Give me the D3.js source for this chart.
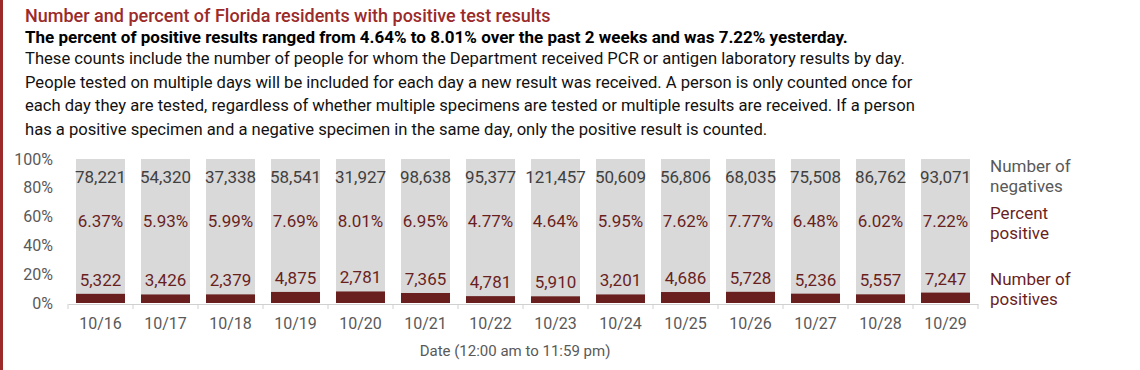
<!DOCTYPE html>
<html>
<head>
<meta charset="utf-8">
<script src="https://cdn.jsdelivr.net/npm/d3@7"></script>
<style>
  body { margin: 0; background: #fff; }
  #here { width: 1140px; height: 370px; }
  text { font-family: "Roboto", "Liberation Sans", sans-serif; }
</style>
</head>
<body>
<div id="here"></div>
<script>
// Florida positives / negatives by day

const dates = ["10/16", "10/17", "10/18", "10/19", "10/20", "10/21", "10/22",
    "10/23", "10/24", "10/25", "10/26", "10/27", "10/28", "10/29"];
const negatives = [78221, 54320, 37338, 58541, 31927, 98638, 95377,
    121457, 50609, 56806, 68035, 75508, 86762, 93071];
const positives = [5322, 3426, 2379, 4875, 2781, 7365, 4781,
    5910, 3201, 4686, 5728, 5236, 5557, 7247];
const pctPositive = [6.37, 5.93, 5.99, 7.69, 8.01, 6.95, 4.77,
    4.64, 5.95, 7.62, 7.77, 6.48, 6.02, 7.22];
const yTicks = [0, 20, 40, 60, 80, 100];

const bodyLines = [
    "These counts include the number of people for whom the Department received PCR or antigen laboratory results by day.",
    "People tested on multiple days will be included for each day a new result was received. A person is only counted once for",
    "each day they are tested, regardless of whether multiple specimens are tested or multiple results are received. If a person",
    "has a positive specimen and a negative specimen in the same day, only the positive result is counted."
];

const data = dates.map(function(d, i){
    return { date: d, neg: negatives[i], pos: positives[i], pct: pctPositive[i] };
});

const width = 1140;
const height = 370;

const svg = d3
    .select("#here")
    .append("svg")
    .attr("width", width)
    .attr("height", height);

// left border
svg.append("rect")
    .attr("x", 0).attr("y", 0)
    .attr("width", 3).attr("height", height)
    .attr("fill", "#9b2a2a");

// headings
svg.append("text")
    .attr("x", 25).attr("y", 22)
    .attr("fill", "#9b2a2a")
    .attr("font-size", 18)
    .attr("font-weight", 500)
    .text("Number and percent of Florida residents with positive test results");

svg.append("text")
    .attr("x", 25).attr("y", 43)
    .attr("fill", "#000")
    .attr("font-size", 17)
    .attr("font-weight", "bold")
    .text("The percent of positive results ranged from 4.64% to 8.01% over the past 2 weeks and was 7.22% yesterday.");

svg.selectAll(".body")
    .data(bodyLines)
    .enter()
    .append("text")
    .attr("class", "body")
    .attr("x", 25)
    .attr("y", function(d, i){ return 64 + i * 23.7; })
    .attr("fill", "#111")
    .attr("font-size", 16.6)
    .text(function(d){ return d; });

// scales
const xScale = d3
    .scaleBand()
    .domain(dates)
    .range([68, 978])
    .paddingInner(0.246)
    .paddingOuter(0.123);

const yScale = d3
    .scaleLinear()
    .domain([0, 100])
    .range([303, 159]);

// y labels (no axis line)
svg.selectAll(".ylab")
    .data(yTicks)
    .enter()
    .append("text")
    .attr("class", "ylab")
    .attr("x", 53)
    .attr("y", function(d){ return yScale(d); })
    .attr("dy", "0.35em")
    .attr("text-anchor", "end")
    .attr("fill", "#595959")
    .attr("font-size", 16)
    .text(function(d){ return d + "%"; });

// full grey bars (negatives + positives = 100%)
svg.selectAll(".negbar")
    .data(data)
    .enter()
    .append("rect")
    .attr("class", "negbar")
    .attr("x", function(d){ return xScale(d.date); })
    .attr("y", yScale(100))
    .attr("width", xScale.bandwidth())
    .attr("height", yScale(0) - yScale(100))
    .attr("fill", "#d9d9d9");

svg.selectAll(".posbar")
    .data(data)
    .enter()
    .append("rect")
    .attr("class", "posbar")
    .attr("x", function(d){ return xScale(d.date); })
    .attr("y", function(d){ return yScale(d.pct); })
    .attr("width", xScale.bandwidth())
    .attr("height", function(d){ return yScale(0) - yScale(d.pct); })
    .attr("fill", "#6a1f1f");

// x axis
const xAxis = svg
    .append("g")
    .attr("transform", "translate(0, 304)")
    .call(d3.axisBottom(xScale).tickSize(0).tickPadding(14));

xAxis.select(".domain").attr("stroke", "#d0d0d0");
xAxis.selectAll("text")
    .attr("fill", "#595959")
    .attr("font-size", 16)
    .attr("font-family", "Roboto, sans-serif");

// ticks between bands
const step = xScale.step();
xAxis.selectAll(".sep")
    .data(d3.range(dates.length + 1))
    .enter()
    .append("line")
    .attr("x1", function(i){ return 68 + i * step; })
    .attr("x2", function(i){ return 68 + i * step; })
    .attr("y1", 0).attr("y2", 5)
    .attr("stroke", "#d0d0d0");

// value labels
const cx = function(d){ return xScale(d.date) + xScale.bandwidth() / 2; };

svg.selectAll(".neglab")
    .data(data)
    .enter()
    .append("text")
    .attr("x", cx)
    .attr("y", 177)
    .attr("dy", "0.35em")
    .attr("text-anchor", "middle")
    .attr("fill", "#404040")
    .attr("font-size", 17)
    .text(function(d){ return d3.format(",")(d.neg); });

svg.selectAll(".pctlab")
    .data(data)
    .enter()
    .append("text")
    .attr("x", cx)
    .attr("y", 221)
    .attr("dy", "0.35em")
    .attr("text-anchor", "middle")
    .attr("fill", "#6a1f1f")
    .attr("font-size", 17)
    .text(function(d){ return d.pct.toFixed(2) + "%"; });

svg.selectAll(".poslab")
    .data(data)
    .enter()
    .append("text")
    .attr("x", cx)
    .attr("y", function(d){ return yScale(d.pct) - 8; })
    .attr("text-anchor", "middle")
    .attr("fill", "#6a1f1f")
    .attr("font-size", 17)
    .text(function(d){ return d3.format(",")(d.pos); });

// axis title
svg.append("text")
    .attr("x", 515).attr("y", 351)
    .attr("dy", "0.35em")
    .attr("text-anchor", "middle")
    .attr("fill", "#595959")
    .attr("font-size", 15)
    .text("Date (12:00 am to 11:59 pm)");

// right-hand legend
const legend = [
    { lines: ["Number of", "negatives"], y: 166, color: "#595959" },
    { lines: ["Percent", "positive"], y: 213, color: "#6a1f1f" },
    { lines: ["Number of", "positives"], y: 279, color: "#6a1f1f" }
];

legend.forEach(function(l){
    l.lines.forEach(function(t, j){
        svg.append("text")
            .attr("x", 990)
            .attr("y", l.y + j * 20)
            .attr("dy", "0.35em")
            .attr("fill", l.color)
            .attr("font-size", 17)
            .text(t);
    });
});
</script>
</body>
</html>
